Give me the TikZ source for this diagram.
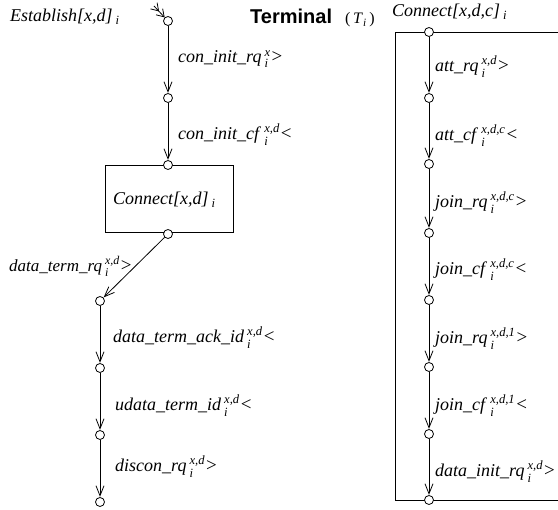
\documentclass[tikz,border=0pt]{standalone}
\usepackage{amsmath}
\usepackage{fontspec}
\setmainfont{Liberation Serif}
\newfontfamily\headfont{Liberation Sans}
\usetikzlibrary{arrows.meta}
% action label: name, stacked super/subscript, direction sign
\newcommand{\act}[3]{\textit{#1}\kern3pt$^{\text{\itshape #2}}_{\text{\itshape i}}$\kern1pt{\fontsize{19}{19}\selectfont#3}}
\newcommand{\procidx}{\kern3pt$_{\text{\itshape i}}$}
\begin{document}
\begin{tikzpicture}[x=1pt,y=-1pt,
  st/.style={circle, draw, line width=0.8pt, inner sep=0pt, minimum size=9pt, fill=white},
  tr/.style={line width=0.8pt, -{Straight Barb[length=10pt,width=8pt]}, shorten >=0.3pt},
  lab/.style={anchor=base west, inner sep=0pt, font=\fontsize{18}{21}\selectfont},
  frame/.style={line width=0.8pt}]
\useasboundingbox (0,0) rectangle (558,510);

% title
\node[anchor=base west, inner sep=0pt, font=\headfont\bfseries\fontsize{20}{22}\selectfont] (ttl) at (250,24) {Terminal};
\node[anchor=base west, inner sep=0pt, font=\fontsize{16}{19}\selectfont] (tti) at (345,24) {(\,\textit{T}$_{\text{\itshape i}}$\,)};

% ---- left column ----
\node[lab] (estl) at (10,22) {\textit{Establish[x,d]}\procidx};
\draw[frame] (105,165) rectangle (233,232);
\node[lab] (conl) at (113,205) {\textit{Connect[x,d]}\procidx};

\node[st] (e0) at (168,21) {};
\node[st] (e1) at (168,98) {};
\node[st] (e2) at (168,165) {};
\node[st] (e3) at (168,234) {};
\node[st] (e4) at (100,301) {};
\node[st] (e5) at (100,368) {};
\node[st] (e6) at (100,435) {};
\node[st] (e7) at (100,502) {};

\coordinate (ein) at (154,6);
\draw[line width=0.8pt, -{Straight Barb[length=7pt,width=9pt]Straight Barb[length=7pt,width=9pt]}] (ein) -- (e0);
\draw[tr] (e0) -- (e1);
\draw[tr] (e1) -- (e2);
\draw[tr] (e3) -- (e4);
\draw[tr] (e4) -- (e5);
\draw[tr] (e5) -- (e6);
\draw[tr] (e6) -- (e7);

\node[lab] (l1) at (178,63) {\act{con\_init\_rq}{x}{>}};
\node[lab] (l2) at (178,140) {\act{con\_init\_cf}{x,d}{<}};
\node[lab, font=\fontsize{17}{20}\selectfont] (l3) at (9,272) {\act{data\_term\_rq}{x,d}{>}};
\node[lab] (l4) at (113,343) {\act{data\_term\_ack\_id}{x,d}{<}};
\node[lab] (l5) at (115,411) {\act{udata\_term\_id}{x,d}{<}};
\node[lab] (l6) at (115,472) {\act{discon\_rq}{x,d}{>}};

% ---- right column ----
\node[lab] (conr) at (392,17) {\textit{Connect[x,d,c]}\procidx};
\draw[frame] (560,32) -- (395,32) -- (395,500) -- (560,500);

\node[st] (r0) at (429,32) {};
\node[st] (r1) at (429,98) {};
\node[st] (r2) at (429,164) {};
\node[st] (r3) at (429,233) {};
\node[st] (r4) at (429,300) {};
\node[st] (r5) at (429,367) {};
\node[st] (r6) at (429,434) {};
\node[st] (r7) at (429,500) {};

\draw[tr] (r0) -- (r1);
\draw[tr] (r1) -- (r2);
\draw[tr] (r2) -- (r3);
\draw[tr] (r3) -- (r4);
\draw[tr] (r4) -- (r5);
\draw[tr] (r5) -- (r6);
\draw[tr] (r6) -- (r7);

\node[lab] (m1) at (435,72) {\act{att\_rq}{x,d}{>}};
\node[lab] (m2) at (435,141) {\act{att\_cf}{x,d,c}{<}};
\node[lab] (m3) at (435,208) {\act{join\_rq}{x,d,c}{>}};
\node[lab] (m4) at (435,275) {\act{join\_cf}{x,d,c}{<}};
\node[lab] (m5) at (435,344) {\act{join\_rq}{x,d,1}{>}};
\node[lab] (m6) at (435,411) {\act{join\_cf}{x,d,1}{<}};
\node[lab] (m7) at (435,477) {\act{data\_init\_rq}{x,d}{>}};
\end{tikzpicture}
\end{document}
